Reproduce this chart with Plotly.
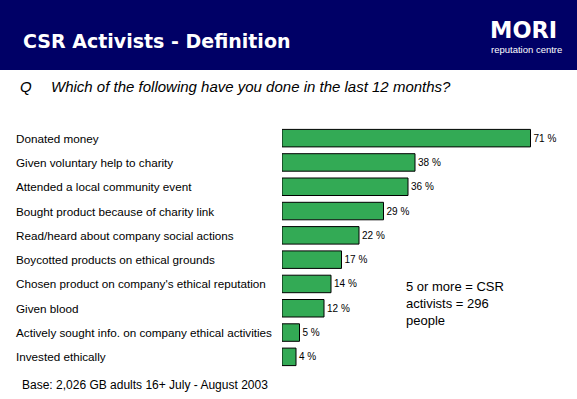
import plotly.graph_objects as go

categories = [
    "Donated money",
    "Given voluntary help to charity",
    "Attended a local community event",
    "Bought product because of charity link",
    "Read/heard about company social actions",
    "Boycotted products on ethical grounds",
    "Chosen product on company's ethical reputation",
    "Given blood",
    "Actively sought info. on company ethical activities",
    "Invested ethically",
]
values = [71, 38, 36, 29, 22, 17, 14, 12, 5, 4]
value_labels = [f"{v} %" for v in values]

W, H = 577, 399
ML, MR, MT, MB = 282, 15, 126, 30
PW = W - ML - MR
PH = H - MT - MB

def px_x(x):
    return (x - ML) / PW

def px_y(y):
    return (H - MB - y) / PH

fig = go.Figure()
fig.add_trace(go.Bar(
    x=values,
    y=categories,
    orientation="h",
    marker=dict(color="#33AA55", line=dict(color="black", width=1)),
    text=value_labels,
    textposition="outside",
    textfont=dict(family="Liberation Sans, Arial", size=10, color="black"),
    cliponaxis=False,
    hoverinfo="skip",
))

annotations = []
for c in categories:
    annotations.append(dict(
        x=px_x(14), xref="paper", y=c, yref="y",
        text=c, showarrow=False, xanchor="left", yanchor="middle",
        font=dict(family="Liberation Sans, Arial", size=11.7, color="black"),
    ))

annotations += [
    dict(x=px_x(21), y=px_y(41), xref="paper", yref="paper",
         text="<b>CSR Activists - Definition</b>", showarrow=False,
         xanchor="left", yanchor="middle",
         font=dict(family="DejaVu Sans", size=19, color="white")),
    dict(x=px_x(488), y=px_y(30), xref="paper", yref="paper",
         text="<b>MORI</b>", showarrow=False, xanchor="left", yanchor="middle",
         font=dict(family="DejaVu Sans", size=22.5, color="white")),
    dict(x=px_x(489), y=px_y(49), xref="paper", yref="paper",
         text="reputation centre", showarrow=False, xanchor="left", yanchor="middle",
         font=dict(family="Liberation Sans, Arial", size=9.5, color="white")),
    dict(x=px_x(18), y=px_y(86), xref="paper", yref="paper",
         text="<i>Q</i>", showarrow=False, xanchor="left", yanchor="middle",
         font=dict(family="Liberation Sans, Arial", size=15, color="black")),
    dict(x=px_x(49), y=px_y(86), xref="paper", yref="paper",
         text="<i>Which of the following have you done in the last 12 months?</i>",
         showarrow=False, xanchor="left", yanchor="middle",
         font=dict(family="Liberation Sans, Arial", size=15, color="black")),
    dict(x=px_x(404), y=px_y(303), xref="paper", yref="paper",
         text="5 or more = CSR<br>activists = 296<br>people",
         showarrow=False, xanchor="left", yanchor="middle", align="left",
         font=dict(family="Liberation Sans, Arial", size=13, color="black")),
    dict(x=px_x(20), y=px_y(385), xref="paper", yref="paper",
         text="Base: 2,026 GB adults 16+ July - August 2003",
         showarrow=False, xanchor="left", yanchor="middle",
         font=dict(family="Liberation Sans, Arial", size=12, color="black")),
]

fig.update_layout(
    width=W, height=H,
    margin=dict(l=ML, r=MR, t=MT, b=MB),
    paper_bgcolor="white", plot_bgcolor="white",
    showlegend=False,
    bargap=0.28,
    xaxis=dict(range=[0, 80], visible=False, fixedrange=True),
    yaxis=dict(autorange="reversed", visible=False, fixedrange=True),
    annotations=annotations,
    shapes=[dict(type="rect", xref="paper", yref="paper",
                 x0=px_x(0), x1=px_x(W), y0=px_y(70), y1=px_y(0),
                 fillcolor="#000066", line=dict(width=0), layer="below")],
)

fig.write_html(
    "out.html",
    config={"displayModeBar": False},
    post_script="document.body.style.margin='0';document.body.style.overflow='hidden';",
)
